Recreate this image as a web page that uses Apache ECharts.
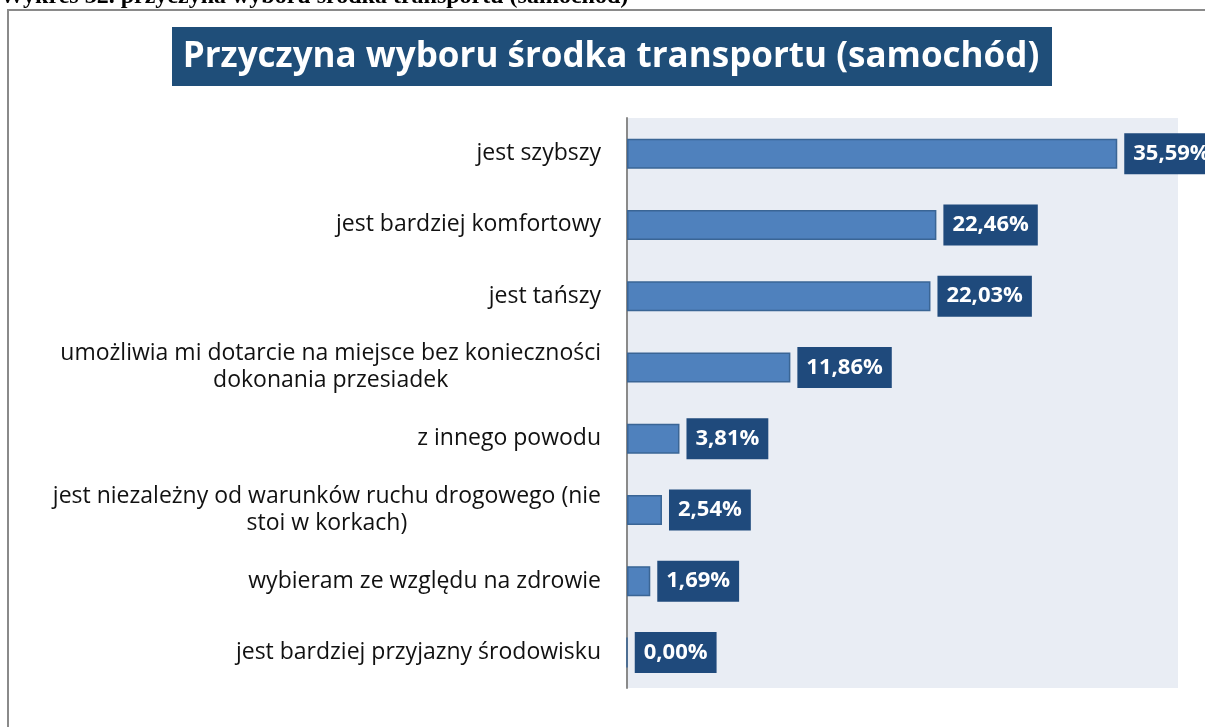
<!DOCTYPE html>
<html>
<head>
<meta charset="utf-8">
<script src="https://cdn.jsdelivr.net/npm/echarts@6/dist/echarts.min.js"></script>
<style>
  html, body { margin: 0; padding: 0; background: #fff; }
  #main { width: 1205px; height: 727px; }
</style>
</head>
<body>
<div id="main"></div>
<script>
// dane z wykresu
var categories = [
  'jest szybszy',
  'jest bardziej komfortowy',
  'jest tańszy',
  'umożliwia mi dotarcie na miejsce bez konieczności\ndokonania przesiadek',
  'z innego powodu',
  'jest niezależny od warunków ruchu drogowego (nie\nstoi w korkach)',
  'wybieram ze względu na zdrowie',
  'jest bardziej przyjazny środowisku'
];
var values = [35.59, 22.46, 22.03, 11.86, 3.81, 2.54, 1.69, 0.00];

var chart = echarts.init(document.getElementById('main'));

var option = {
  animation: false,
  graphic: [
    // podpis nad ramką (ucięty)
    {
      type: 'text', z: 10, x: 0, y: 9,
      style: {
        text: 'Wykres 32. przyczyna wyboru środka transportu (samochód)',
        font: 'bold 24px "Liberation Serif"', fill: '#000',
        verticalAlign: 'bottom'
      }
    },
    // ramka
    {
      type: 'rect', z: 5,
      shape: { x: 8, y: 10, width: 1220, height: 740 },
      style: { fill: 'none', stroke: '#8a8a8a', lineWidth: 2 }
    },
    // tytuł
    {
      type: 'rect', z: 6,
      shape: { x: 172, y: 27, width: 880, height: 59 },
      style: { fill: '#1F4E79' }
    },
    {
      type: 'text', z: 7, x: 611, y: 57,
      style: {
        text: 'Przyczyna wyboru środka transportu (samochód)',
        font: 'bold 35px "Open Sans"', fill: '#fff',
        align: 'center', verticalAlign: 'middle'
      }
    }
  ],
  grid: {
    left: 627, top: 118, width: 551, height: 570,
    show: true, backgroundColor: '#E9EDF4', borderWidth: 0
  },
  xAxis: {
    type: 'value', min: 0, max: 40,
    axisLabel: { show: false }, axisLine: { show: false },
    axisTick: { show: false }, splitLine: { show: false }
  },
  yAxis: {
    type: 'category', inverse: true, data: categories,
    axisLine: { show: true, lineStyle: { color: '#8a8a8a', width: 2 } },
    axisTick: { show: false },
    axisLabel: {
      margin: 26, align: 'right',
      fontFamily: 'Open Sans', fontSize: 23, color: '#111', lineHeight: 27,
      formatter: function (v) {
        return v.split('\n').map(function (l) { return '{c|' + l + '}'; }).join('\n');
      },
      rich: {
        c: { align: 'center', fontFamily: 'Open Sans', fontSize: 23, color: '#111', lineHeight: 27 }
      }
    }
  },
  series: [{
    type: 'bar', data: values, barWidth: 30,
    itemStyle: { color: '#4F81BD', borderColor: '#3A6595', borderWidth: 1.5 },
    label: {
      show: true, position: 'right', distance: 7,
      formatter: function (p) { return p.value.toFixed(2).replace('.', ',') + '%'; },
      backgroundColor: '#1F4A7C', color: '#fff',
      fontFamily: 'Open Sans', fontWeight: 'bold', fontSize: 22,
      padding: [10, 9, 9, 9]
    }
  }]
};

chart.setOption(option);
</script>
</body>
</html>
